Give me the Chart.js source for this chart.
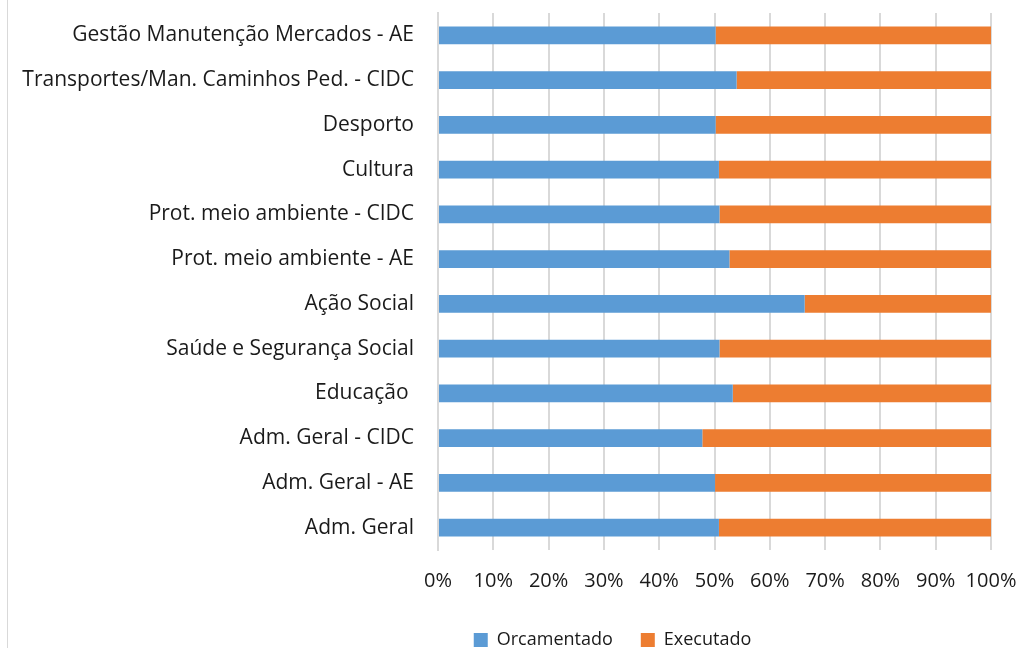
<!DOCTYPE html>
<html>
<head>
<meta charset="utf-8">
<script src="https://cdn.jsdelivr.net/npm/chart.js@4/dist/chart.umd.min.js"></script>
<style>
  html, body { margin: 0; padding: 0; background: #fff; overflow: hidden; }
  #wrap { position: relative; width: 1019px; height: 648px; }
  #frame { position: absolute; left: 7px; top: 0; width: 1px; height: 648px; background: #d9d9d9; }
</style>
</head>
<body>
<div id="wrap">
  <div id="frame"></div>
  <canvas id="chart" width="1019" height="648"></canvas>
</div>
<script>
// Categories, top to bottom as shown
const categories = [
    'Gestão Manutenção Mercados - AE',
    'Transportes/Man. Caminhos Ped. - CIDC',
    'Desporto',
    'Cultura',
    'Prot. meio ambiente - CIDC',
    'Prot. meio ambiente - AE',
    'Ação Social',
    'Saúde e Segurança Social',
    'Educação ',
    'Adm. Geral - CIDC',
    'Adm. Geral - AE',
    'Adm. Geral'
];

// Share of each category (percent)
const orcamentado = [50.2, 54.0, 50.2, 50.8, 50.9, 52.7, 66.3, 50.9, 53.3, 47.8, 50.1, 50.8];
const executado   = [49.8, 46.0, 49.8, 49.2, 49.1, 47.3, 33.7, 49.1, 46.7, 52.2, 49.9, 49.2];

const xTicks = [0, 10, 20, 30, 40, 50, 60, 70, 80, 90, 100];

const fontFamily = "'Open Sans', sans-serif";
const textColor = '#1a1a1a';
const gridColor = '#d9d9d9';

// Move the legend to where the original has it
const legendShift = {
    id: 'legendShift',
    afterLayout(chart) {
        const lg = chart.legend;
        if (lg) {
            lg.left += 117;
            lg.right += 117;
            lg.top += 11;
            lg.bottom += 11;
        }
    }
};

const ctx = document.getElementById('chart').getContext('2d');
new Chart(ctx, {
    type: 'bar',
    data: {
        labels: categories,
        datasets: [
            {
                label: 'Orcamentado',
                data: orcamentado,
                backgroundColor: '#5b9bd5',
                categoryPercentage: 1,
                barPercentage: 0.4
            },
            {
                label: 'Executado',
                data: executado,
                backgroundColor: '#ed7d31',
                categoryPercentage: 1,
                barPercentage: 0.4
            }
        ]
    },
    options: {
        indexAxis: 'y',
        responsive: false,
        animation: false,
        layout: {padding: {top: 13, right: 28, left: 0, bottom: 0}},
        plugins: {
            legend: {
                position: 'bottom',
                labels: {
                    font: {family: fontFamily, size: 18},
                    color: textColor,
                    boxWidth: 14,
                    boxHeight: 14,
                    padding: 28
                }
            },
            tooltip: {enabled: false}
        },
        scales: {
            x: {
                stacked: true,
                min: 0,
                max: 100,
                afterBuildTicks: axis => { axis.ticks = xTicks.map(v => ({value: v})); },
                afterFit: axis => {
                    axis.height = 42;
                    axis.paddingLeft = 0;
                    axis.paddingRight = 0;
                },
                ticks: {
                    callback: v => v + '%',
                    font: {family: fontFamily, size: 20},
                    color: textColor,
                    padding: 19,
                    maxRotation: 0
                },
                grid: {color: gridColor, lineWidth: 2, drawTicks: false},
                border: {display: false}
            },
            y: {
                stacked: true,
                afterFit: axis => {
                    axis.width = 438;
                    axis.paddingTop = 0;
                    axis.paddingBottom = 0;
                },
                ticks: {
                    font: {family: fontFamily, size: 21},
                    color: textColor,
                    padding: 24
                },
                grid: {display: false, drawTicks: false},
                border: {display: true, color: gridColor, width: 2}
            }
        }
    },
    plugins: [legendShift]
});
</script>
</body>
</html>
